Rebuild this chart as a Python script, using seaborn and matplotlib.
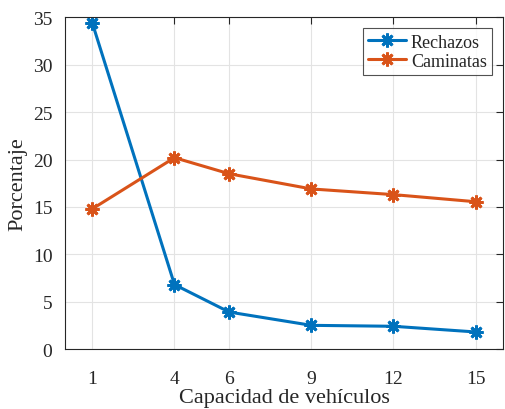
import matplotlib
matplotlib.use("Agg")
import matplotlib.pyplot as plt
import seaborn as sns
import pandas as pd

capacidad = [1, 4, 6, 9, 12, 15]
rechazos = [34.4, 6.8, 3.9, 2.5, 2.4, 1.8]
caminatas = [14.8, 20.2, 18.5, 16.9, 16.3, 15.55]
x_ticks = [1, 4, 6, 9, 12, 15]
y_ticks = [0, 5, 10, 15, 20, 25, 30, 35]

sns.set_theme(style="white")
plt.rcParams['font.family'] = ['Liberation Serif', 'DejaVu Serif']
plt.rcParams['mathtext.fontset'] = 'stix'

df = pd.DataFrame({
    "Capacidad": capacidad * 2,
    "Porcentaje": rechazos + caminatas,
    "Serie": ["Rechazos"] * len(capacidad) + ["Caminatas"] * len(capacidad),
})

fig = plt.figure(figsize=(5.05, 4.10), dpi=100)
ax = fig.add_axes([0.1287, 0.1463, 0.8673, 0.8086])

palette = {"Rechazos": "#0072BD", "Caminatas": "#D95319"}
sns.lineplot(data=df, x="Capacidad", y="Porcentaje", hue="Serie",
             palette=palette, marker=(8, 2, 0), markersize=10,
             markeredgewidth=2, linewidth=2.2, ax=ax, legend=True)
for line in ax.lines:
    line.set_markeredgecolor(line.get_color())

ax.set_xlim(0, 16)
ax.set_ylim(0, 35)
ax.set_xticks(x_ticks)
ax.set_yticks(y_ticks)
ax.grid(True, color="#e3e3e3", linewidth=0.8)
ax.set_axisbelow(True)
ax.tick_params(direction="in", length=5, width=0.8, colors="#262626",
               labelsize=14, top=True, right=True, labelcolor="#262626")
ax.tick_params(axis='x', pad=15)
ax.tick_params(axis='y', pad=9)
for s in ax.spines.values():
    s.set_color("#262626")
    s.set_linewidth(0.8)
ax.set_xlabel("Capacidad de vehículos", fontsize=16, color="#262626", labelpad=1)
ax.set_ylabel("Porcentaje", fontsize=16, color="#262626", labelpad=4)

leg = ax.legend(loc="upper right", fontsize=13, frameon=True, fancybox=False,
                edgecolor="#262626", handlelength=2.1, handletextpad=0.25,
                borderpad=0.3, labelspacing=0.1, borderaxespad=0.6)
leg.get_frame().set_linewidth(0.8)
for t in leg.get_texts():
    t.set_color("#262626")

fig.savefig("out.png", dpi=100)
